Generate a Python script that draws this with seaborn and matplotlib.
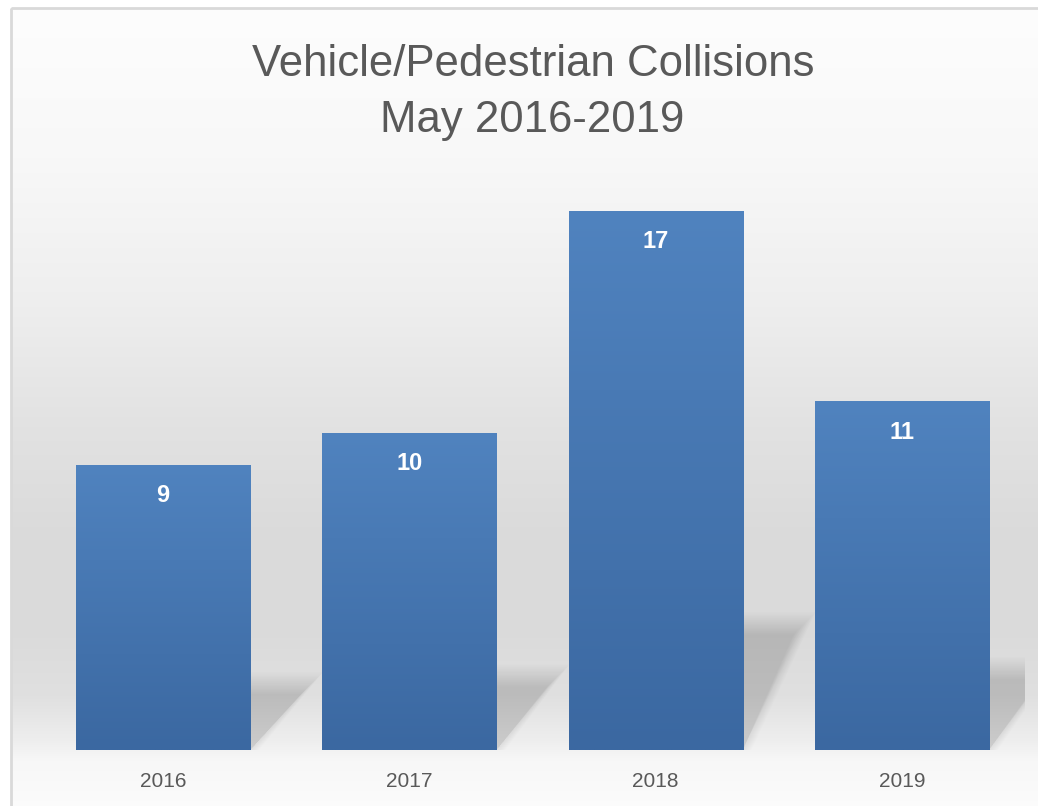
import numpy as np
import matplotlib
matplotlib.use('Agg')
import matplotlib.pyplot as plt
import seaborn as sns
from matplotlib import font_manager
from matplotlib.patches import Rectangle, Polygon

# data
years = ['2016', '2017', '2018', '2019']
collisions = [9, 10, 17, 11]
title_lines = ['Vehicle/Pedestrian Collisions', 'May 2016-2019']

W, H = 1038, 806
DPI = 100

names = {f.name for f in font_manager.fontManager.ttflist}
title_font = 'Liberation Sans Narrow' if 'Liberation Sans Narrow' in names else 'Liberation Sans'
text_font = 'Liberation Sans'
text_grey = '#595959'

sns.set_style('white')
fig = plt.figure(figsize=(W / DPI, H / DPI), dpi=DPI)
fig.patch.set_facecolor('white')

# chart area background: vertical grey gradient + thin border
bg = fig.add_axes([0, 0, 1, 1], zorder=-10)
bg.set_xlim(0, W)
bg.set_ylim(H, 0)
bg.axis('off')
ys = np.arange(H)
stops_y = [0, 150, 300, 420, 520, 620, 690, 735, 755, 806]
stops_v = [253, 248, 238, 226, 219, 218, 224, 238, 247, 252]
grey = np.interp(ys, stops_y, stops_v) / 255.0
grad = np.repeat(grey[:, None, None], 3, axis=2)
bg.imshow(grad, extent=[11, W + 5, H + 5, 8], aspect='auto', origin='upper', interpolation='bilinear')
bg.add_patch(Rectangle((11, 8), W + 50, H + 50, fill=False, edgecolor='#d9d9d9', lw=2))
bg.set_xlim(0, W)
bg.set_ylim(H, 0)

# plot area
ax = fig.add_axes([40 / W, 56 / H, (1025 - 40) / W, (750 - 179) / H])
ax.patch.set_alpha(0)
sns.barplot(x=years, y=collisions, ax=ax, color='#4a7ab5', saturation=1, width=0.707, zorder=3)

ymax = 18
ax.set_ylim(0, ymax)
ax.set_xlim(-0.5, 3.5)

px = 4.0 / (1025 - 40)          # data units per pixel (x)
py = ymax / (750 - 179)         # data units per pixel (y)
top_col = np.array([80, 131, 191]) / 255.0
bot_col = np.array([59, 104, 161]) / 255.0
ramp = np.linspace(0, 1, 200)[:, None, None]
bar_grad = top_col * (1 - ramp) + bot_col * ramp

for patch, val in zip(list(ax.patches), collisions):
    x0 = patch.get_x()
    w = patch.get_width()
    h = patch.get_height()
    patch.set_edgecolor('none')

    # gradient fill
    im = ax.imshow(bar_grad, extent=[x0, x0 + w, 0, h], aspect='auto',
                   origin='upper', zorder=3.5, interpolation='bilinear')
    im.set_clip_path(patch)

    # soft perspective shadow behind the bar
    hs = 0.235 * h
    dx = 62 * px
    n = 18
    for k in range(n):
        e = (k - (n - 1) / 2) * 1.3
        top = hs + e * py
        sh = dx + e * px
        poly = Polygon([(x0, 0), (x0 + w + max(e, 0) * px * 0.8, 0),
                        (x0 + w + sh, top), (x0 + sh, top)],
                       closed=True, facecolor='black', alpha=0.0085, lw=0, zorder=1)
        ax.add_patch(poly)

    ax.annotate(str(val), xy=(x0 + w / 2, h), xytext=(0, -31),
                textcoords='offset pixels', ha='center', va='center',
                color='white', fontsize=17, fontweight='bold',
                family=text_font, zorder=5)

ax.set_xlim(-0.5, 3.5)
ax.set_ylim(0, ymax)
ax.set_xlabel('')
ax.set_ylabel('')
ax.set_yticks([])
for s in ax.spines.values():
    s.set_visible(False)
ax.tick_params(axis='x', length=0, pad=16, labelsize=15, labelcolor=text_grey)
for lab in ax.get_xticklabels():
    lab.set_family(text_font)

fig.text(533 / W, 1 - 76 / H, title_lines[0], ha='center', va='baseline',
         fontsize=31.5, color=text_grey, family=title_font)
fig.text(532 / W, 1 - 132 / H, title_lines[1], ha='center', va='baseline',
         fontsize=31.5, color=text_grey, family=title_font)

fig.savefig('out.png', dpi=DPI)
